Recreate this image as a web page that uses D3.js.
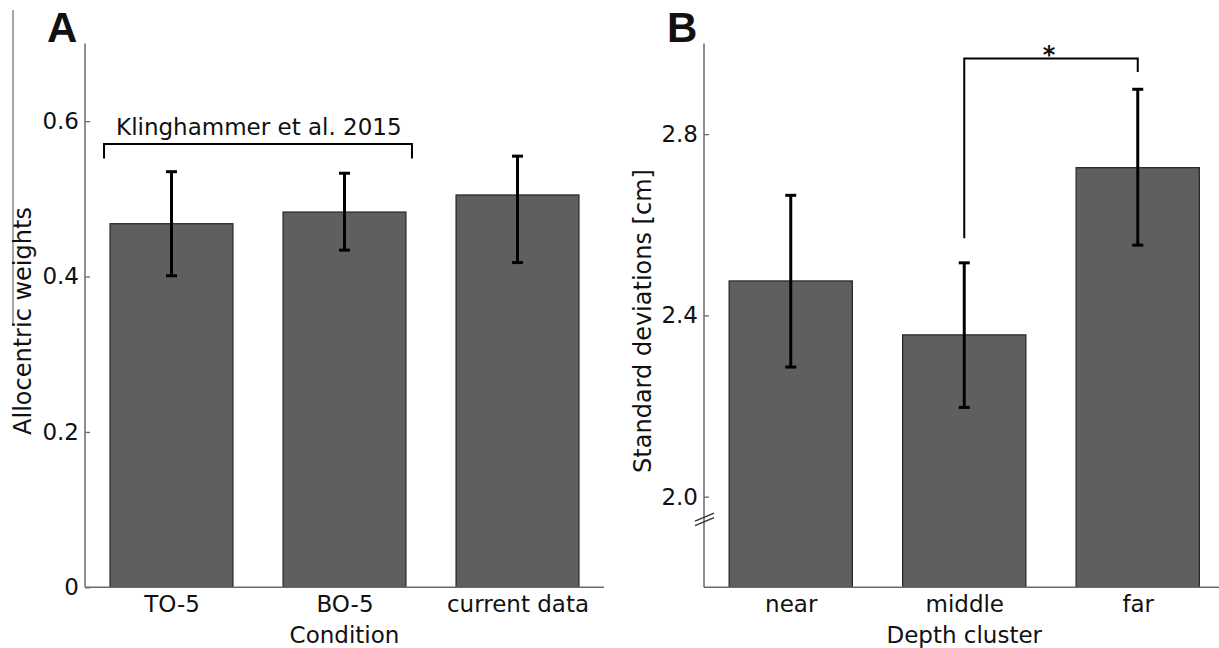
<!DOCTYPE html>
<html>
<head>
<meta charset="utf-8">
<script src="https://cdn.jsdelivr.net/npm/d3@7"></script>
<style>
  body { margin: 0; background: #fff; }
  text { font-family: "DejaVu Sans", sans-serif; fill: #111; }
</style>
</head>
<body>
<div id="chart"></div>
<script>

// Panel A - allocentric weights per condition
var condLabels = ["TO-5", "BO-5", "current data"];
var allocMean  = [0.468, 0.483, 0.505];
var allocHi    = [0.535, 0.533, 0.555];
var allocLo    = [0.401, 0.434, 0.418];
var allocTicks = [0, 0.2, 0.4, 0.6];

// Panel B - standard deviations per depth cluster
var depthLabels = ["near", "middle", "far"];
var sdMean  = [2.476, 2.357, 2.726];
var sdHi    = [2.665, 2.516, 2.899];
var sdLo    = [2.286, 2.197, 2.555];
var sdTicks = [2.0, 2.4, 2.8];

var W = 1219, H = 648;
var barColor = "#5f5f5f";
var axisColor = "#6a6a6a";
var fontSize = 23;

var svg = d3.select("#chart").append("svg")
  .attr("width", W)
  .attr("height", H);

svg.append("rect").attr("width", W).attr("height", H).attr("fill", "#fff");

// stray frame line at the far left
svg.append("line")
  .attr("x1", 13).attr("x2", 13)
  .attr("y1", 10).attr("y2", 326)
  .attr("stroke", "#888").attr("stroke-width", 1.5);

function drawPanel(opts) {
  var g = svg.append("g");

  var x = d3.scaleLinear().domain([0.5, 3.5]).range([opts.left, opts.right]);
  var y = d3.scaleLinear().domain(opts.yDomain).range([587.3, 43.5]);
  var bw = x(1.71) - x(1);

  // bars
  g.selectAll("rect.bar")
    .data(opts.mean)
    .enter()
    .append("rect")
    .attr("class", "bar")
    .attr("x", function(d, i) { return x(i + 1) - bw / 2; })
    .attr("y", function(d) { return y(d); })
    .attr("width", bw)
    .attr("height", function(d) { return y(opts.yDomain[0]) - y(d); })
    .attr("fill", barColor)
    .attr("stroke", "#2b2b2b")
    .attr("stroke-width", 1.3);

  // error bars
  var capW = 5.5;
  opts.mean.forEach(function(m, i) {
    var cx = x(i + 1);
    var eb = g.append("g")
      .attr("stroke", "#000")
      .attr("stroke-width", 3);
    eb.append("line").attr("x1", cx).attr("x2", cx)
      .attr("y1", y(opts.hi[i])).attr("y2", y(opts.lo[i]));
    eb.append("line").attr("x1", cx - capW).attr("x2", cx + capW)
      .attr("y1", y(opts.hi[i])).attr("y2", y(opts.hi[i]));
    eb.append("line").attr("x1", cx - capW).attr("x2", cx + capW)
      .attr("y1", y(opts.lo[i])).attr("y2", y(opts.lo[i]));
  });

  // y axis, ticks pointing inward like matlab
  var yAxis = d3.axisLeft(y)
    .tickValues(opts.ticks)
    .tickSizeInner(-5)
    .tickSizeOuter(0)
    .tickPadding(6)
    .tickFormat(opts.tickFormat);
  var ya = g.append("g")
    .attr("transform", "translate(" + opts.left + ",0)")
    .call(yAxis);
  ya.select(".domain").remove();
  ya.selectAll(".tick line").attr("stroke", axisColor).attr("stroke-width", 1.3);
  ya.selectAll(".tick text")
    .style("font-size", fontSize + "px")
    .style("font-family", "'DejaVu Sans', sans-serif")
    .attr("fill", "#111");

  g.append("line")
    .attr("x1", opts.left).attr("x2", opts.left)
    .attr("y1", y.range()[1]).attr("y2", y.range()[0])
    .attr("stroke", axisColor).attr("stroke-width", 1.5);

  // x axis
  var xAxis = d3.axisBottom(x)
    .tickValues([1, 2, 3])
    .tickSize(0)
    .tickPadding(8)
    .tickFormat(function(d) { return opts.labels[d - 1]; });
  var xa = g.append("g")
    .attr("transform", "translate(0," + y.range()[0] + ")")
    .call(xAxis);
  xa.select(".domain").remove();
  xa.selectAll(".tick text")
    .style("font-size", fontSize + "px")
    .style("font-family", "'DejaVu Sans', sans-serif")
    .attr("fill", "#111");

  g.append("line")
    .attr("x1", opts.left).attr("x2", Math.min(opts.right, W))
    .attr("y1", y.range()[0]).attr("y2", y.range()[0])
    .attr("stroke", axisColor).attr("stroke-width", 1.5);

  // axis titles
  g.append("text")
    .attr("x", x(2))
    .attr("y", 643)
    .attr("text-anchor", "middle")
    .style("font-size", fontSize + "px")
    .text(opts.xTitle);

  g.append("text")
    .attr("transform", "translate(" + opts.yTitleX + ",321) rotate(-90)")
    .attr("text-anchor", "middle")
    .style("font-size", "24px")
    .text(opts.yTitle);

  // panel letter
  g.append("text")
    .attr("x", opts.letterX)
    .attr("y", 42)
    .style("font-family", "'Liberation Sans', Arial, sans-serif")
    .style("font-weight", "bold")
    .style("font-size", "42px")
    .text(opts.letter);

  return { g: g, x: x, y: y };
}

var pA = drawPanel({
  left: 85, right: 604,
  yDomain: [0, 0.7],
  mean: allocMean, hi: allocHi, lo: allocLo,
  ticks: allocTicks,
  tickFormat: function(d) { return d === 0 ? "0" : d3.format(".1f")(d); },
  labels: condLabels,
  xTitle: "Condition",
  yTitle: "Allocentric weights",
  yTitleX: 31,
  letter: "A", letterX: 47
});

var pB = drawPanel({
  left: 704, right: 1224.5,
  yDomain: [1.8, 3.0],
  mean: sdMean, hi: sdHi, lo: sdLo,
  ticks: sdTicks,
  tickFormat: d3.format(".1f"),
  labels: depthLabels,
  xTitle: "Depth cluster",
  yTitle: "Standard deviations [cm]",
  yTitleX: 651,
  letter: "B", letterX: 667
});

// bracket over the older data in A
var xa = pA.x, ya = pA.y;
pA.g.append("path")
  .attr("d", d3.line()([
    [xa(0.61), ya(0.552)], [xa(0.61), ya(0.5705)],
    [xa(2.39), ya(0.5705)], [xa(2.39), ya(0.552)]
  ]))
  .attr("fill", "none")
  .attr("stroke", "#000")
  .attr("stroke-width", 2);

pA.g.append("text")
  .attr("x", xa(1.505))
  .attr("y", 135)
  .attr("text-anchor", "middle")
  .style("font-size", fontSize + "px")
  .text("Klinghammer et al. 2015");

// significance bracket middle vs far in B
var xb = pB.x, yb = pB.y;
pB.g.append("path")
  .attr("d", d3.line()([
    [xb(2), yb(2.570)], [xb(2), yb(2.967)],
    [xb(3), yb(2.967)], [xb(3), yb(2.937)]
  ]))
  .attr("fill", "none")
  .attr("stroke", "#000")
  .attr("stroke-width", 2);

pB.g.append("text")
  .attr("x", xb(2.5) - 2)
  .attr("y", 63)
  .attr("text-anchor", "middle")
  .style("font-size", "24px")
  .style("font-weight", "bold")
  .text("*");

// axis break marks on B
var brkY = yb(1.95);
[-2.2, 2.2].forEach(function(off) {
  pB.g.append("line")
    .attr("x1", 695).attr("y1", brkY + off + 4)
    .attr("x2", 714).attr("y2", brkY + off - 4)
    .attr("stroke", "#333")
    .attr("stroke-width", 1.4);
});

</script>
</body>
</html>
